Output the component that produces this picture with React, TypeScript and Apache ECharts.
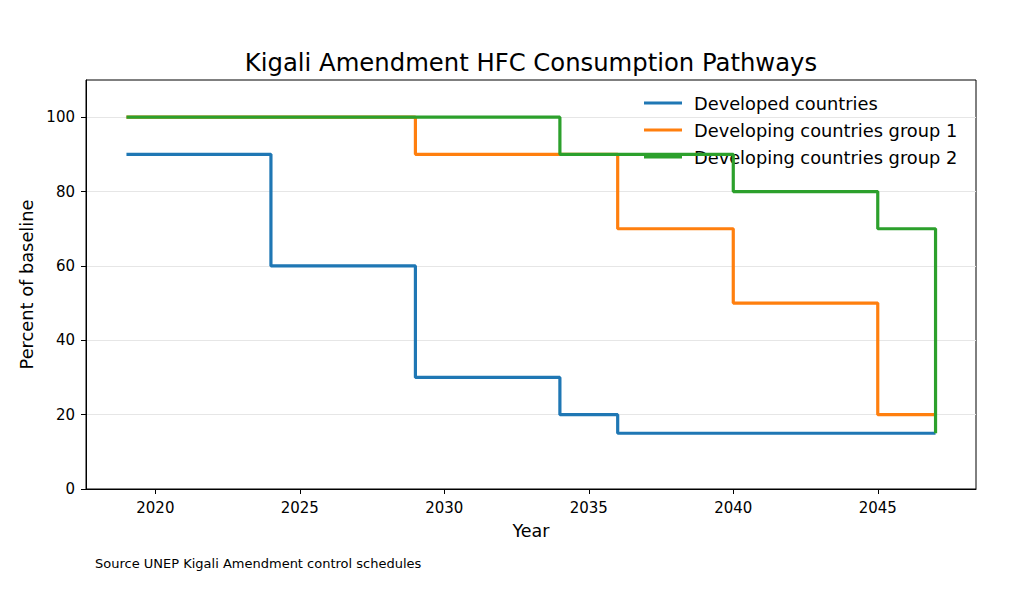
import React, { useEffect, useRef } from "react";
import * as echarts from "echarts";

const seriesNames = ["Developed countries", "Developing countries group 1", "Developing countries group 2"];
const developedX = [2019, 2024, 2029, 2034, 2036, 2047];
const developedY = [90, 60, 30, 20, 15, 15];
const group1X = [2019, 2029, 2036, 2040, 2045, 2047];
const group1Y = [100, 90, 70, 50, 20, 20];
const group2X = [2019, 2034, 2040, 2045, 2047];
const group2Y = [100, 90, 80, 70, 15];
const xTicks = [2020, 2025, 2030, 2035, 2040, 2045];
const yTicks = [0, 20, 40, 60, 80, 100];
const colors = ["#1f77b4", "#ff7f0e", "#2ca02c"];

const FONT = "DejaVu Sans";

function pairs(xs: number[], ys: number[]) {
  return xs.map((x, i) => [x, ys[i]]);
}

export default function App() {
  const ref = useRef<HTMLDivElement>(null);
  useEffect(() => {
    document.body.style.margin = "0";
    const chart = echarts.init(ref.current!, null, { renderer: "svg" });
    const datasets = [pairs(developedX, developedY), pairs(group1X, group1Y), pairs(group2X, group2Y)];
    chart.setOption({
      animation: false,
      backgroundColor: "#ffffff",
      textStyle: { fontFamily: FONT },
      grid: {
        left: 86,
        right: 51,
        top: 80,
        bottom: 112,
        show: true,
        borderColor: "#000",
        borderWidth: 1,
        backgroundColor: "transparent",
      },
      xAxis: {
        type: "value",
        min: 2017.6,
        max: 2048.4,
        name: "Year",
        nameLocation: "middle",
        nameGap: 33,
        nameTextStyle: { fontFamily: FONT, fontSize: 17.5, color: "#000" },
        axisLine: { show: true, lineStyle: { color: "#000", width: 1 } },
        axisTick: { show: true, length: 5, lineStyle: { color: "#000" }, customValues: xTicks },
        axisLabel: {
          customValues: xTicks,
          fontFamily: FONT,
          fontSize: 15,
          color: "#000",
          margin: 11,
          formatter: (v: number) => String(v),
        },
        splitLine: { show: false },
      },
      yAxis: {
        type: "value",
        min: 0,
        max: 110,
        name: "Percent of baseline",
        nameLocation: "middle",
        nameGap: 49,
        nameRotate: 90,
        nameTextStyle: { fontFamily: FONT, fontSize: 17.8, color: "#000" },
        axisLine: { show: true, lineStyle: { color: "#000", width: 1 } },
        axisTick: { show: true, length: 5, lineStyle: { color: "#000" }, customValues: yTicks },
        axisLabel: {
          customValues: yTicks,
          fontFamily: FONT,
          fontSize: 15,
          color: "#000",
          margin: 11,
          formatter: (v: number) => String(v),
        },
        splitLine: { show: true, lineStyle: { color: "#e6e6e6", width: 1 } },
      },
      legend: {
        orient: "vertical",
        left: 639,
        top: 87,
        itemWidth: 38,
        itemHeight: 3,
        itemGap: 5,
        icon: "rect",
        data: seriesNames,
        textStyle: {
          fontFamily: FONT,
          fontSize: 17.8,
          lineHeight: 22,
          color: "#000",
          padding: [0, 0, 0, 7],
        },
      },
      graphic: [
        {
          type: "text",
          x: 531,
          y: 62,
          style: {
            text: "Kigali Amendment HFC Consumption Pathways",
            fontFamily: FONT,
            fontSize: 24.3,
            fill: "#000",
            textAlign: "center",
            textVerticalAlign: "middle",
          },
        },
        {
          type: "text",
          x: 95,
          y: 563,
          style: {
            text: "Source UNEP Kigali Amendment control schedules",
            fontFamily: FONT,
            fontSize: 13,
            fill: "#000",
            textAlign: "left",
            textVerticalAlign: "middle",
          },
        },
      ],
      series: seriesNames.map((name, i) => ({
        name,
        type: "line",
        step: "end",
        data: datasets[i],
        showSymbol: false,
        symbol: "none",
        silent: true,
        z: 2 + i,
        itemStyle: { color: colors[i] },
        lineStyle: { color: colors[i], width: 3.2 },
      })),
    });
    return () => chart.dispose();
  }, []);
  return <div ref={ref} style={{ width: 1027, height: 601 }} />;
}
